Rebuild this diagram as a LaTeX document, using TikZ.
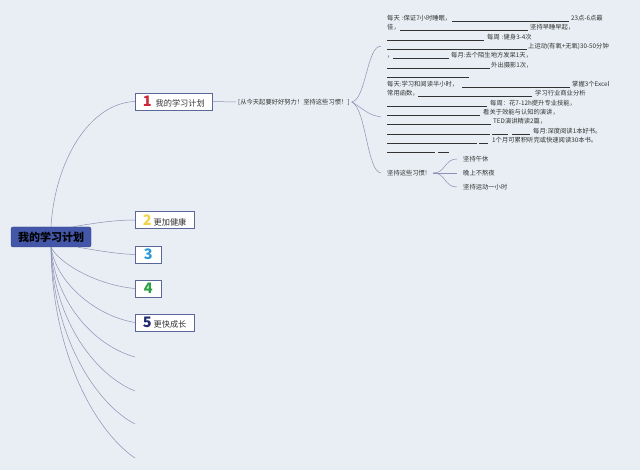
\documentclass[tikz,border=0pt]{standalone}
\usepackage{fontspec}
\setmainfont{Noto Sans CJK SC}
\definecolor{bg}{HTML}{E8EEF3}
\definecolor{lnk}{HTML}{8A92B5}
\definecolor{rootf}{HTML}{4356A8}
\definecolor{rootd}{HTML}{33448A}
\definecolor{boxd}{HTML}{5B6699}
\definecolor{txt}{HTML}{333333}
\definecolor{nred}{HTML}{D0283A}
\definecolor{nyel}{HTML}{F2D44A}
\definecolor{nblu}{HTML}{2E9BD6}
\definecolor{ngrn}{HTML}{2EA043}
\definecolor{nnav}{HTML}{1F2D6E}
\newcommand\pc[2]{\makebox[0pt][l]{\hspace*{#1pt}#2}}
\newcommand\ru[2]{\pc{#1}{\rule[-1pt]{#2pt}{0.4pt}}}
\newcommand\numb[2]{{\fontsize{14.5}{14.5}\selectfont\bfseries\color{#1}#2}}
\begin{document}
\begin{tikzpicture}[x=1pt,y=-1pt,
  link/.style={draw=lnk,line width=0.5pt},
  rootbox/.style={draw=rootd,fill=rootf,rounded corners=2pt,minimum width=80pt,minimum height=20pt,inner sep=0pt,font=\fontsize{11}{11}\selectfont\bfseries,text=black},
  topicbox/.style={draw=boxd,fill=white,line width=0.6pt,minimum height=17pt,inner xsep=7.5pt,inner ysep=0pt,anchor=west,font=\fontsize{8.2}{8.2}\selectfont,text=txt},
  small/.style={font=\fontsize{6.3}{9.3}\selectfont,text=txt,inner xsep=6pt,inner ysep=0pt},
  block/.style={small,anchor=north west,text width=240pt,align=left}
]
\fill[bg] (0,0) rectangle (640,470);
\useasboundingbox (0,0) rectangle (640,470);

\node[rootbox] (root) at (51,237) {我的学习计划};

\node[topicbox] (b1) at (135,101.5) {\numb{nred}{1}\hspace{4pt}我的学习计划};
\node[topicbox] (b2) at (135,220) {\numb{nyel}{2}\hspace{2pt}更加健康};
\node[topicbox,minimum width=26pt,inner xsep=0pt] (b3) at (135,254.5) {\numb{nblu}{3}};
\node[topicbox,minimum width=26pt,inner xsep=0pt] (b4) at (135,288.5) {\numb{ngrn}{4}};
\node[topicbox] (b5) at (135,322.5) {\numb{nnav}{5}\hspace{2pt}更快成长};
\coordinate (e6) at (135,357);
\coordinate (e7) at (135,391);
\coordinate (e8) at (135,424);
\coordinate (e9) at (135,458);

\draw[link] (root.north) .. controls (55,160) and (90,103) .. (b1.west);
\draw[link] ([xshift=22pt]root.north) .. controls (95,223) and (115,220) .. (b2.west);
\draw[link] ([xshift=27pt]root.south) .. controls (100,251) and (118,254) .. (b3.west);
\draw[link] (root.south) .. controls (58,262) and (95,285) .. (b4.west);
\draw[link] (root.south) .. controls (56,282) and (95,316) .. (b5.west);
\draw[link] (root.south) .. controls (55,300) and (92,345) .. (e6);
\draw[link] (root.south) .. controls (54,320) and (95,375) .. (e7);
\draw[link] (root.south) .. controls (53,340) and (98,405) .. (e8);
\draw[link] (root.south) .. controls (52,360) and (100,435) .. (e9);

\node[small,anchor=west,inner xsep=2pt] (s) at (236,102) {[从今天起要好好努力！坚持这些习惯！]};
\draw[link] (b1.east) -- (s.west);

\node[block] (t1) at (381,15) {%
\pc{0}{每天 :保证7小时睡眠，}\ru{65}{117}\pc{184}{23点-6点最}\\
\pc{0}{佳，}\ru{13}{128}\pc{143}{坚持早睡早起，}\\
\ru{0}{97}\pc{100}{每周 :健身3-4次}\\
\ru{0}{140}\pc{141}{上运动(有氧+无氧)30-50分钟}\\
\pc{0}{，}\ru{6}{56}\pc{64}{每月:去个陌生地方发呆1天，}\\
\ru{0}{103}\pc{104}{外出摄影1次，}\\
\ru{0}{82}};

\node[block] (t2) at (381,81) {%
\pc{0}{每天:学习和阅读半小时，}\ru{75}{108}\pc{185}{掌握3个Excel}\\
\pc{0}{常用函数，}\ru{31}{114}\pc{148}{学习行业商业分析}\\
\ru{0}{100}\pc{103}{每周：花7-12h提升专业技能，}\\
\ru{0}{93}\pc{96}{看关于效能与认知的演讲，}\\
\ru{0}{104}\pc{106}{TED演讲精读2篇，}\\
\ru{0}{103}\ru{105}{16}\ru{125}{18}\pc{146}{每月:深度阅读1本好书。}\\
\ru{0}{90}\ru{92}{9}\pc{105}{1个月可累积听完或快速阅读30本书。}\\
\ru{0}{48}\ru{51}{11}};

\node[small,anchor=west] (h) at (381,173) {坚持这些习惯!};

\draw[link] (s.east) .. controls (366,100) and (367,45) .. (t1.west);
\draw[link] (s.east) .. controls (365,110) and (368,115) .. (t2.west);
\draw[link] (s.east) .. controls (366,108) and (367,172) .. (h.west);

\node[small,anchor=west] (l1) at (457,159) {坚持午休};
\node[small,anchor=west] (l2) at (457,173) {晚上不熬夜};
\node[small,anchor=west] (l3) at (457,187) {坚持运动一小时};

\draw[link] (h.east) .. controls (446,173) and (444,159) .. (l1.west);
\draw[link] (h.east) -- (l2.west);
\draw[link] (h.east) .. controls (446,173) and (444,187) .. (l3.west);
\end{tikzpicture}
\end{document}
